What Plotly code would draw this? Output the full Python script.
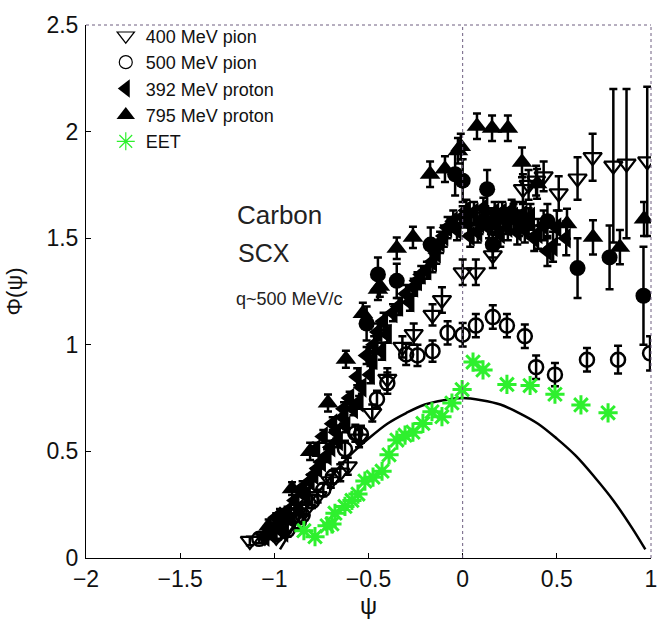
import plotly.graph_objects as go

# ---- data ---------------------------------------------------------------
# 400 MeV pion (open down-triangles)
pi400_x = [-1.13, -1.05, -0.99, -0.93, -0.87, -0.83, -0.77, -0.70, -0.65, -0.61,
           -0.55, -0.48, -0.40, -0.32, -0.26, -0.16, -0.11, 0.00, 0.07, 0.16,
           0.32, 0.35, 0.39, 0.43, 0.51, 0.61, 0.69, 0.80, 0.87, 0.98]
pi400_y = [0.08, 0.10, 0.10, 0.15, 0.19, 0.23, 0.29, 0.36, 0.40, 0.43,
           0.56, 0.68, 0.84, 0.99, 1.05, 1.14, 1.21, 1.34, 1.34, 1.42,
           1.73, 1.75, 1.77, 1.79, 1.71, 1.78, 1.88, 1.84, 1.85, 1.86]
pi400_e = [0.02, 0.02, 0.02, 0.03, 0.03, 0.03, 0.03, 0.03, 0.04, 0.04,
           0.04, 0.04, 0.05, 0.05, 0.05, 0.05, 0.06, 0.06, 0.06, 0.06,
           0.07, 0.07, 0.07, 0.07, 0.08, 0.10, 0.11, 0.36, 0.35, 0.35]

# 500 MeV pion (open circles)
pi500_x = [-1.08, -0.99, -0.93, -0.87, -0.85, -0.80, -0.74, -0.69, -0.625, -0.57,
           -0.54, -0.455, -0.40, -0.30, -0.24, -0.16, -0.08, 0.00, 0.07, 0.16,
           0.235, 0.33, 0.39, 0.49, 0.66, 0.825, 0.995]
pi500_y = [0.09, 0.11, 0.13, 0.17, 0.20, 0.265, 0.32, 0.38, 0.51, 0.585,
           0.58, 0.745, 0.82, 0.955, 0.95, 0.97, 1.056, 1.047, 1.09, 1.13,
           1.09, 1.04, 0.895, 0.86, 0.93, 0.93, 0.96]
pi500_e = [0.02, 0.02, 0.03, 0.03, 0.03, 0.03, 0.03, 0.03, 0.04, 0.04,
           0.04, 0.04, 0.05, 0.05, 0.05, 0.05, 0.055, 0.055, 0.055, 0.055,
           0.055, 0.055, 0.055, 0.055, 0.055, 0.065, 0.08]

# 392 MeV proton (filled left-triangles)
p392_x = [-1.05, -1.02, -0.99, -0.97, -0.95, -0.93, -0.91, -0.89, -0.87, -0.85,
          -0.83, -0.81, -0.79, -0.78, -0.77, -0.75, -0.74, -0.72, -0.70, -0.69,
          -0.67, -0.66, -0.635, -0.63, -0.62, -0.60, -0.58, -0.56, -0.55, -0.535,
          -0.51, -0.49, -0.476, -0.47, -0.45, -0.43, -0.42, -0.40, -0.37, -0.34,
          -0.30, -0.28, -0.26, -0.24, -0.22, -0.19, -0.16, -0.14, -0.12, -0.10,
          -0.08, -0.05, -0.03, 0.00, 0.02, 0.03, 0.04, 0.06, 0.08, 0.09,
          0.11, 0.12, 0.14, 0.15, 0.17, 0.18, 0.20, 0.21, 0.23, 0.24,
          0.26, 0.27, 0.29, 0.30, 0.32, 0.33, 0.35, 0.36, 0.38, 0.40,
          0.43, 0.45, 0.48, 0.50, 0.55]
p392_y = [0.10, 0.13, 0.19, 0.16, 0.12, 0.22, 0.18, 0.27, 0.23, 0.33,
          0.29, 0.36, 0.39, 0.51, 0.42, 0.45, 0.57, 0.48, 0.52, 0.63,
          0.59, 0.55, 0.66, 0.70, 0.62, 0.75, 0.70, 0.85, 0.73, 0.80,
          0.95, 0.86, 0.93, 1.00, 1.06, 0.97, 1.11, 1.05, 1.15, 1.18,
          1.24, 1.20, 1.27, 1.30, 1.33, 1.35, 1.39, 1.43, 1.48, 1.51,
          1.55, 1.58, 1.54, 1.60, 1.63, 1.57, 1.51, 1.62, 1.53, 1.57,
          1.64, 1.60, 1.55, 1.58, 1.62, 1.56, 1.52, 1.62, 1.58, 1.55,
          1.63, 1.60, 1.53, 1.57, 1.61, 1.54, 1.58, 1.60, 1.50, 1.52,
          1.56, 1.44, 1.46, 1.55, 1.50]
p392_e = [0.02, 0.02, 0.02, 0.02, 0.02, 0.02, 0.02, 0.02, 0.02, 0.03,
          0.03, 0.03, 0.03, 0.03, 0.03, 0.03, 0.03, 0.03, 0.03, 0.03,
          0.03, 0.03, 0.03, 0.03, 0.03, 0.03, 0.03, 0.04, 0.03, 0.03,
          0.04, 0.04, 0.04, 0.04, 0.04, 0.04, 0.04, 0.04, 0.04, 0.04,
          0.04, 0.04, 0.04, 0.04, 0.04, 0.04, 0.05, 0.05, 0.05, 0.05,
          0.05, 0.05, 0.05, 0.05, 0.05, 0.05, 0.05, 0.05, 0.05, 0.05,
          0.05, 0.05, 0.05, 0.06, 0.05, 0.06, 0.06, 0.05, 0.06, 0.06,
          0.05, 0.06, 0.06, 0.06, 0.06, 0.06, 0.06, 0.06, 0.06, 0.07,
          0.07, 0.07, 0.07, 0.08, 0.08]

# 795 MeV proton (filled up-triangles)
p795_x = [-1.03, -0.97, -0.906, -0.81, -0.715, -0.62, -0.53, -0.45, -0.44, -0.35,
          -0.264, -0.173, -0.094, -0.025, -0.01, 0.076, 0.156, 0.24, 0.315, 0.395,
          0.554, 0.692, 0.835, 0.963]
p795_y = [0.15, 0.20, 0.325, 0.50, 0.727, 0.932, 1.147, 1.26, 1.275, 1.453,
          1.504, 1.80, 1.824, 1.91, 1.93, 2.025, 2.016, 2.016, 1.856, 1.755,
          1.568, 1.504, 1.458, 1.59]
p795_e = [0.03, 0.03, 0.03, 0.04, 0.04, 0.04, 0.05, 0.05, 0.05, 0.05,
          0.05, 0.06, 0.06, 0.06, 0.06, 0.06, 0.06, 0.06, 0.07, 0.07,
          0.07, 0.08, 0.08, 0.08]

# additional pion points (filled circles)
pic_x = [-0.51, -0.45, -0.35, -0.17, -0.04, 0.00, 0.13, 0.16, 0.28, 0.45, 0.61, 0.78, 0.96]
pic_y = [1.10, 1.33, 1.30, 1.47, 1.80, 1.77, 1.73, 1.47, 1.60, 1.58, 1.36, 1.41, 1.23]
pic_e = [0.08, 0.08, 0.08, 0.08, 0.10, 0.10, 0.09, 0.06, 0.07, 0.08, 0.14, 0.15, 0.23]

# EET (green asterisks)
eet_x = [-0.843, -0.784, -0.72, -0.694, -0.678, -0.625, -0.588, -0.556, -0.519, -0.476,
         -0.428, -0.391, -0.349, -0.306, -0.264, -0.211, -0.163, -0.11, -0.057, -0.003,
         0.055, 0.108, 0.235, 0.358, 0.49, 0.628, 0.772]
eet_y = [0.128, 0.10, 0.151, 0.16, 0.21, 0.242, 0.27, 0.30, 0.361, 0.379,
         0.407, 0.484, 0.553, 0.576, 0.59, 0.631, 0.686, 0.663, 0.727, 0.79,
         0.919, 0.882, 0.814, 0.809, 0.768, 0.718, 0.681]

# scaling curve
curve_x = [-0.97, -0.9, -0.8, -0.7, -0.6, -0.5, -0.4, -0.3, -0.2, -0.1, 0.0,
           0.1, 0.2, 0.3, 0.4, 0.5, 0.6, 0.7, 0.8, 0.9, 0.97]
curve_y = [0.04, 0.14, 0.27, 0.38, 0.48, 0.56, 0.63, 0.68, 0.72, 0.74, 0.75,
           0.74, 0.72, 0.68, 0.63, 0.56, 0.48, 0.38, 0.27, 0.14, 0.04]

legend_names = ["400 MeV pion", "500 MeV pion", "392 MeV proton", "795 MeV proton", "EET"]

FONT = "Liberation Sans, Arial, Helvetica, sans-serif"
GREEN = "#2ef02e"
BLACK = "black"


def err(vals):
    return dict(type="data", array=vals, visible=True, color=BLACK,
                thickness=2.5, width=4)


fig = go.Figure()

fig.add_trace(go.Scatter(x=curve_x, y=curve_y, mode="lines",
                         line=dict(color=BLACK, width=2.5, shape="spline"),
                         showlegend=False, hoverinfo="skip"))

fig.add_trace(go.Scatter(x=pi400_x, y=pi400_y, mode="markers", error_y=err(pi400_e),
                         marker=dict(symbol="triangle-down-open", size=16, color=BLACK,
                                     line=dict(width=2.2, color=BLACK)),
                         showlegend=False))
fig.add_trace(go.Scatter(x=pi500_x, y=pi500_y, mode="markers", error_y=err(pi500_e),
                         marker=dict(symbol="circle-open", size=14, color=BLACK,
                                     line=dict(width=2.5, color=BLACK)),
                         showlegend=False))
fig.add_trace(go.Scatter(x=pic_x, y=pic_y, mode="markers", error_y=err(pic_e),
                         marker=dict(symbol="circle", size=16, color=BLACK),
                         showlegend=False))
fig.add_trace(go.Scatter(x=p795_x, y=p795_y, mode="markers", error_y=err(p795_e),
                         marker=dict(symbol="triangle-up", size=18, color=BLACK),
                         showlegend=False))
fig.add_trace(go.Scatter(x=p392_x, y=p392_y, mode="markers", error_y=err(p392_e),
                         marker=dict(symbol="triangle-left", size=18, color=BLACK),
                         showlegend=False))
fig.add_trace(go.Scatter(x=eet_x, y=eet_y, mode="markers",
                         marker=dict(symbol="asterisk-open", size=16, color=GREEN,
                                     line=dict(width=3, color=GREEN)),
                         showlegend=False))

# legend entries
leg_styles = [
    dict(symbol="triangle-down-open", size=15, color=BLACK, line=dict(width=1.2, color=BLACK)),
    dict(symbol="circle-open", size=13, color=BLACK, line=dict(width=1.2, color=BLACK)),
    dict(symbol="triangle-left", size=16, color=BLACK),
    dict(symbol="triangle-up", size=16, color=BLACK),
    dict(symbol="asterisk-open", size=15, color=GREEN, line=dict(width=1.2, color=GREEN)),
]
for name, st in zip(legend_names, leg_styles):
    fig.add_trace(go.Scatter(x=[None], y=[None], mode="markers", name=name, marker=st))

# dotted reference lines: psi = 0, top and right frame
line_col = "#6e5e80"
fig.add_shape(type="line", xref="x", yref="paper", x0=0, x1=0, y0=0, y1=1,
              line=dict(color=line_col, width=1, dash="dot"))
fig.add_shape(type="line", xref="paper", yref="paper", x0=0, x1=1, y0=1, y1=1,
              line=dict(color=line_col, width=1, dash="dot"))
fig.add_shape(type="line", xref="paper", yref="paper", x0=1, x1=1, y0=0, y1=1,
              line=dict(color=line_col, width=1, dash="dot"))

fig.add_annotation(x=-1.21, y=1.61, xref="x", yref="y", text="Carbon", showarrow=False,
                   xanchor="left", font=dict(family=FONT, size=26, color="#222"))
fig.add_annotation(x=-1.205, y=1.43, xref="x", yref="y", text="SCX", showarrow=False,
                   xanchor="left", font=dict(family=FONT, size=25, color="#222"))
fig.add_annotation(x=-1.215, y=1.215, xref="x", yref="y", text="q~500 MeV/c", showarrow=False,
                   xanchor="left", font=dict(family=FONT, size=18, color="#222"))

axis_common = dict(showgrid=False, zeroline=False, showline=True, linecolor=BLACK,
                   linewidth=1, ticks="inside", ticklen=5, tickcolor=BLACK,
                   tickfont=dict(family=FONT, size=23, color="#111"))

fig.update_layout(
    width=672, height=622,
    margin=dict(l=86, r=21, t=14, b=61),
    paper_bgcolor="white", plot_bgcolor="white",
    font=dict(family=FONT, color="#111"),
    xaxis=dict(range=[-2, 1], dtick=0.5, tick0=-2, **axis_common,
               title=dict(text="ψ", font=dict(family=FONT, size=24), standoff=2)),
    yaxis=dict(range=[0, 2.5], dtick=0.5, tick0=0, **axis_common,
               ticklabelstandoff=2,
               title=dict(text="Φ(ψ)", font=dict(family=FONT, size=22), standoff=17)),
    legend=dict(x=0.035, y=1.014, xanchor="left", yanchor="top",
                bgcolor="rgba(0,0,0,0)", borderwidth=0,
                font=dict(family=FONT, size=18, color="#111"),
                tracegroupgap=0, itemsizing="trace"),
)

fig.write_html("out.html")
